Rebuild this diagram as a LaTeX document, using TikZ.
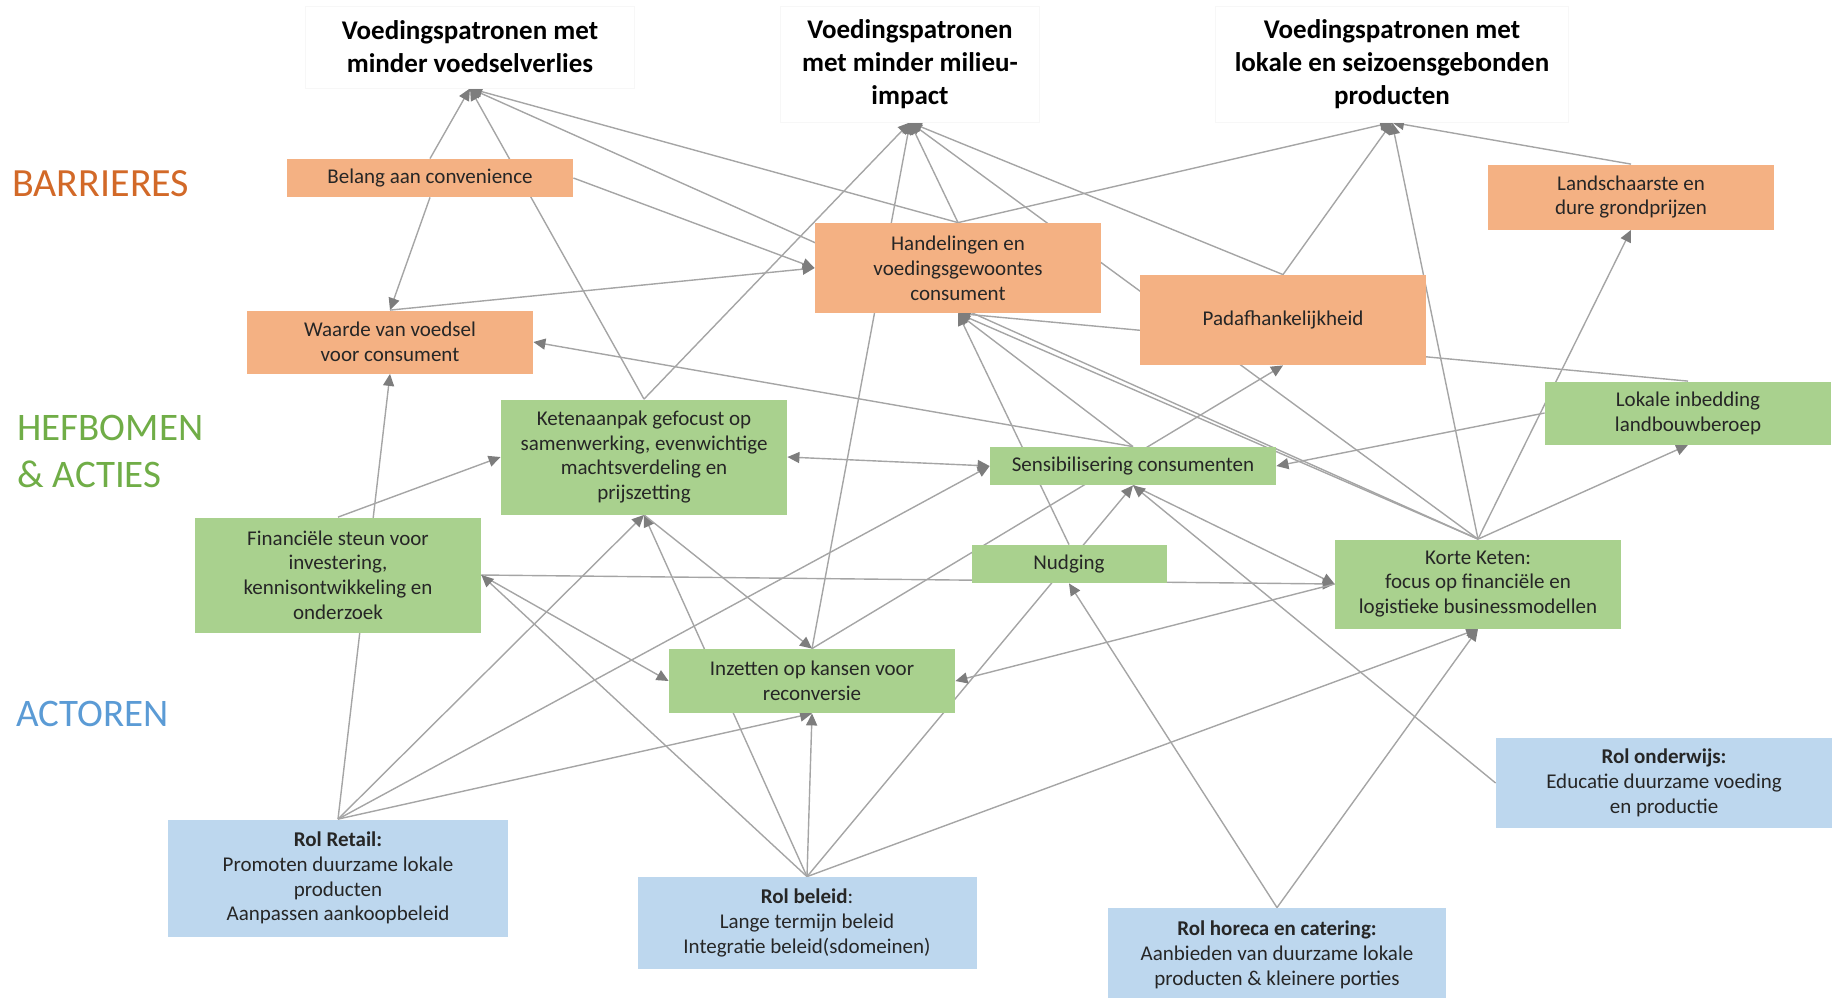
\documentclass[tikz,border=0pt]{standalone}
\usepackage{fontspec}
\setmainfont{Carlito}
\usetikzlibrary{arrows.meta,backgrounds}
\definecolor{oranjebox}{RGB}{244,177,131}
\definecolor{groenbox}{RGB}{169,209,142}
\definecolor{blauwbox}{RGB}{189,215,238}
\definecolor{oranjetxt}{RGB}{210,105,40}
\definecolor{groentxt}{RGB}{112,173,71}
\definecolor{blauwtxt}{RGB}{91,155,213}
\definecolor{lijngrijs}{RGB}{165,165,165}
\definecolor{pijlgrijs}{RGB}{125,125,125}
\begin{document}
\begin{tikzpicture}[x=0.5pt,y=-0.5pt,
  box/.style={inner sep=0pt,align=center,text=black!85,font=\fontsize{10.5}{12.4}\selectfont,minimum width=143pt},
  barriere/.style={box,fill=oranjebox},
  hefboom/.style={box,fill=groenbox},
  actor/.style={box,fill=blauwbox,minimum width=170pt},
  doel/.style={inner sep=0pt,align=center,draw=black!3,fill=white,font=\fontsize{13.5}{16.5}\selectfont\bfseries},
  laag/.style={anchor=west,align=left,inner sep=0pt,font=\fontsize{19.5}{23.5}\selectfont},
  verband/.style={draw=lijngrijs,line width=0.7pt,-{Triangle[length=6pt,width=5.5pt,color=pijlgrijs]}},
  tweezijdig/.style={draw=lijngrijs,line width=0.7pt,{Triangle[length=6pt,width=5.5pt,color=pijlgrijs]}-{Triangle[length=6pt,width=5.5pt,color=pijlgrijs]}}]
\useasboundingbox (0,0) rectangle (1834,997);

\node[laag,text=oranjetxt,font=\fontsize{20}{24}\selectfont] (barrieres) at (12,184) {BARRIERES};
\node[laag,text=groentxt] (hefbomen) at (17,451) {HEFBOMEN\\\& ACTIES};
\node[laag,text=blauwtxt] (actoren) at (16,714) {ACTOREN};

\node[doel,minimum width=164.5pt,minimum height=41pt] (g1) at (470,47) {Voedingspatronen met\\minder voedselverlies};
\node[doel,minimum width=129.5pt,minimum height=58pt] (g2) at (910,64) {Voedingspatronen\\met minder milieu-\\impact};
\node[doel,minimum width=176.5pt,minimum height=58pt] (g3) at (1392,64) {Voedingspatronen met\\lokale en seizoensgebonden\\producten};

\node[barriere,minimum height=19pt] (belang) at (430,178) {Belang aan convenience};
\node[barriere,minimum height=31.5pt] (waarde) at (390,342) {Waarde van voedsel\\voor consument};
\node[barriere,minimum height=45pt] (hand) at (958,268) {Handelingen en\\voedingsgewoontes\\consument};
\node[barriere,minimum height=45pt] (padaf) at (1283,320) {Padafhankelijkheid};
\node[barriere,minimum height=32.5pt] (land) at (1631,197) {Landschaarste en\\dure grondprijzen};

\node[hefboom,minimum height=57.5pt] (keten) at (644,457) {Ketenaanpak gefocust op\\samenwerking, evenwichtige\\machtsverdeling en\\prijszetting};
\node[hefboom,minimum height=19pt] (sens) at (1133,466) {Sensibilisering consumenten};
\node[hefboom,minimum height=31.5pt] (lokale) at (1688,413) {Lokale inbedding\\landbouwberoep};
\node[hefboom,minimum height=57.5pt] (fin) at (338,575) {Financiële steun voor\\investering,\\kennisontwikkeling en\\onderzoek};
\node[hefboom,minimum width=97.5pt,minimum height=19pt] (nudging) at (1069,564) {Nudging};
\node[hefboom,minimum height=44.5pt] (kk) at (1478,584) {Korte Keten:\\focus op financiële en\\logistieke businessmodellen};
\node[hefboom,minimum height=32pt] (inzet) at (812,681) {Inzetten op kansen voor\\reconversie};

\node[actor,minimum height=58.5pt] (retail) at (338,878) {\textbf{Rol Retail:}\\Promoten duurzame lokale\\producten\\Aanpassen aankoopbeleid};
\node[actor,minimum width=169.5pt,minimum height=46pt] (beleid) at (807,923) {\textbf{Rol beleid}:\\Lange termijn beleid\\Integratie beleid(sdomeinen)};
\node[actor,minimum width=169pt,minimum height=47pt] (horeca) at (1277,955) {\textbf{Rol horeca en catering:}\\Aanbieden van duurzame lokale\\producten \& kleinere porties};
\node[actor,minimum width=168pt,minimum height=45pt] (onderwijs) at (1664,783) {\textbf{Rol onderwijs:}\\Educatie duurzame voeding\\en productie};

\begin{scope}[on background layer]
\foreach \a/\b in {belang.north/g1.south, keten.north/g1.south, kk.north/g1.south, hand.north/g1.south,
  belang.south/waarde.north, belang.east/hand.west, waarde.north/hand.west,
  keten.north/g2.south, inzet.north/g2.south, hand.north/g2.south, kk.north/g2.south, padaf.north/g2.south,
  hand.north/g3.south, padaf.north/g3.south, kk.north/g3.south, land.north/g3.south,
  kk.north/land.south, kk.north/lokale.south, kk.north/hand.south, lokale.north/hand.south,
  nudging.north/hand.south, sens.north/hand.south, sens.north/waarde.east, inzet.north/padaf.south,
  lokale.west/sens.east, sens.south/kk.west, onderwijs.west/sens.south, beleid.north/sens.south,
  fin.north/keten.west, retail.north/waarde.south, retail.north/keten.south, retail.north/sens.west,
  retail.north/inzet.south, fin.east/kk.west, fin.east/inzet.west, beleid.north/fin.east,
  beleid.north/keten.south, beleid.north/inzet.south, beleid.north/kk.south, keten.south/inzet.north,
  kk.west/inzet.east, horeca.north/nudging.south, horeca.north/kk.south}{
\draw[verband] (\a) -- (\b);
}
\draw[tweezijdig] (keten.east) -- (sens.west);
\end{scope}
\end{tikzpicture}
\end{document}
